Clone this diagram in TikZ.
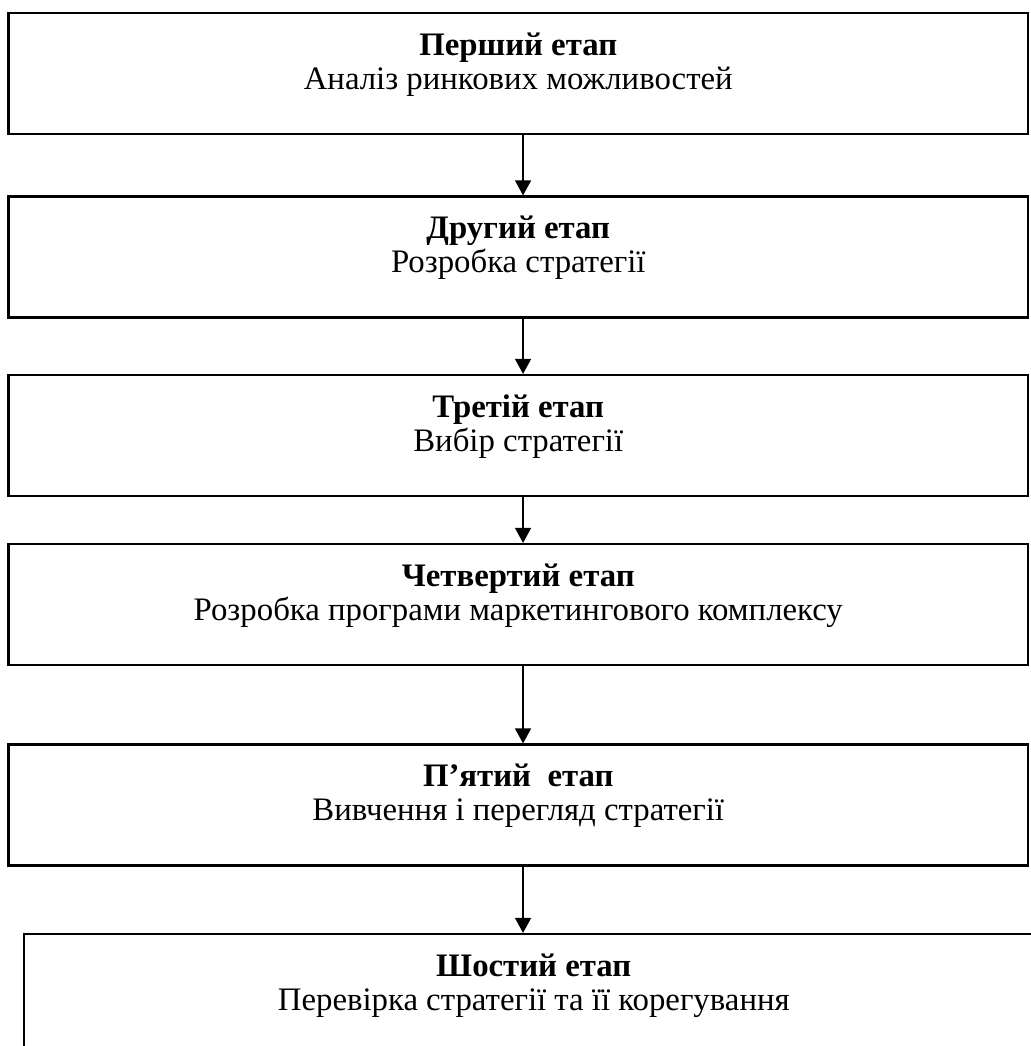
\documentclass[tikz,border=0pt]{standalone}
\usepackage{fontspec}
\setmainfont{Liberation Serif}
\usetikzlibrary{arrows.meta}
\tikzset{
  stage/.style={draw, line width=1.1pt, minimum width=509.75pt, minimum height=60.5pt,
    inner sep=0pt, align=center, text height=28.5pt, text depth=13pt,
    font=\fontsize{16.4}{17}\selectfont},
  flow/.style={-{Triangle[length=7.5pt,width=8pt]}, line width=0.65pt},
}
\begin{document}
\begin{tikzpicture}[x=0.5pt,y=-0.5pt]
  \useasboundingbox (0,0) rectangle (1030,1046);
  \node[stage] (s1) at (518.25,73.5) {\textbf{Перший етап}\\Аналіз ринкових можливостей};
  \node[stage] (s2) at (518.25,257) {\textbf{Другий етап}\\Розробка стратегії};
  \node[stage] (s3) at (518.25,435.5) {\textbf{Третій етап}\\Вибір стратегії};
  \node[stage] (s4) at (518.25,604.5) {\textbf{Четвертий етап}\\Розробка програми маркетингового комплексу};
  \node[stage] (s5) at (518.25,805) {\textbf{П’ятий~~етап}\\Вивчення і перегляд стратегії};
  \node[stage] (s6) at (533.75,994.5) {\textbf{Шостий етап}\\Перевірка стратегії та її корегування};
  \foreach \a/\b in {s1/s2,s2/s3,s3/s4,s4/s5,s5/s6}
    \draw[flow] ([xshift=2.4pt]\a.south) -- ([xshift=2.4pt]\a.south |- \b.north);
\end{tikzpicture}
\end{document}
